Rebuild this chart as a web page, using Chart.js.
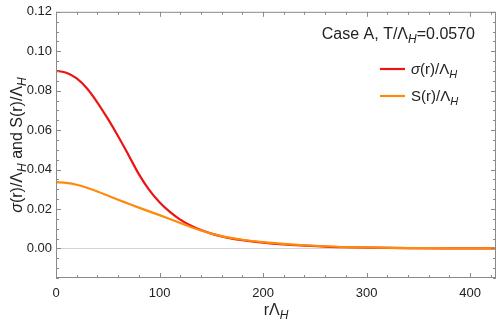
<!DOCTYPE html>
<html>
<head>
<meta charset="utf-8">
<script src="https://cdn.jsdelivr.net/npm/chart.js@4.4.1/dist/chart.umd.min.js"></script>
<style>
  html, body { margin: 0; padding: 0; background: #fff; }
  #wrap { width: 498px; height: 326px; }
</style>
</head>
<body>
<div id="wrap"><canvas id="chart"></canvas></div>
<script>
// values
const rVals = [0, 10, 20, 30, 40, 50, 60, 70, 80, 90, 100, 110, 120, 130, 140, 150, 160, 170, 180, 200, 220, 240, 260, 280, 300, 340, 380, 425];
const sigmaVals = [0.0901, 0.0891, 0.0862, 0.0811, 0.0740, 0.0658, 0.0569, 0.0474, 0.0377, 0.0297, 0.0234, 0.0185, 0.0146, 0.0116, 0.0093, 0.0075, 0.0061, 0.0050, 0.0042, 0.0029, 0.0020, 0.0014, 0.0009, 0.0006, 0.0004, 0.00015, 0.00006, 0.00002];
const sVals = [0.0336, 0.0332, 0.0323, 0.0308, 0.0289, 0.0268, 0.0247, 0.0227, 0.0207, 0.0188, 0.0169, 0.0149, 0.0129, 0.0109, 0.0091, 0.0075, 0.0062, 0.0052, 0.0044, 0.0032, 0.0023, 0.0016, 0.0011, 0.0007, 0.0005, 0.0002, 0.0001, 0.00003];
const xTicks = [0, 100, 200, 300, 400];
const yTicks = [0.00, 0.02, 0.04, 0.06, 0.08, 0.10, 0.12];

const RED = "rgb(235, 20, 20)";
const ORANGE = "rgb(255, 138, 10)";
const FONT = "'Liberation Sans', Arial, sans-serif";

function toPoints(ys) {
  return rVals.map((r, i) => ({ x: r, y: ys[i] }));
}

// draws text made of parts {t, it, sub}
function drawRich(ctx, parts, x, y, size, align) {
  const fontFor = (p) => (p.it ? "italic " : "") + (p.sub ? Math.round(size * 0.72) : size) + "px " + FONT;
  let w = 0;
  parts.forEach((p) => {
    ctx.font = fontFor(p);
    w += ctx.measureText(p.t).width;
  });
  let cx = align === "center" ? x - w / 2 : align === "right" ? x - w : x;
  ctx.textAlign = "left";
  ctx.textBaseline = "alphabetic";
  parts.forEach((p) => {
    ctx.font = fontFor(p);
    ctx.fillText(p.t, cx, p.sub ? y + size * 0.25 : y);
    cx += ctx.measureText(p.t).width;
  });
}

const framePlugin = {
  id: "frame",
  beforeDatasetsDraw(chart) {
    const ctx = chart.ctx;
    const a = chart.chartArea;
    const py = Math.round(chart.scales.y.getPixelForValue(0)) + 0.5;
    ctx.save();
    ctx.strokeStyle = "#d4d4d4";
    ctx.lineWidth = 1;
    ctx.beginPath(); ctx.moveTo(a.left, py); ctx.lineTo(a.right, py); ctx.stroke();
    ctx.restore();
  },
  afterDatasetsDraw(chart) {
    const ctx = chart.ctx;
    const a = chart.chartArea;
    const xs = chart.scales.x;
    const ys = chart.scales.y;
    ctx.save();
    // frame
    ctx.strokeStyle = "#8a8a8a";
    ctx.lineWidth = 1;
    ctx.strokeRect(a.left + 0.5, a.top + 0.5, a.right - a.left - 1, a.bottom - a.top - 1);
    // ticks
    ctx.beginPath();
    for (let v = 0; v <= 425; v += 20) {
      const px = Math.round(xs.getPixelForValue(v)) + 0.5;
      const len = v % 100 === 0 ? 5 : 3;
      ctx.moveTo(px, a.bottom); ctx.lineTo(px, a.bottom - len);
      ctx.moveTo(px, a.top); ctx.lineTo(px, a.top + len);
    }
    for (let k = -3; k <= 24; k++) {
      const v = k * 0.005;
      const py = Math.round(ys.getPixelForValue(v)) + 0.5;
      const len = k % 4 === 0 ? 5 : 3;
      ctx.moveTo(a.left, py); ctx.lineTo(a.left + len, py);
      ctx.moveTo(a.right, py); ctx.lineTo(a.right - len, py);
    }
    ctx.stroke();
    ctx.restore();
  },
  afterDraw(chart) {
    const ctx = chart.ctx;
    const a = chart.chartArea;
    ctx.save();
    ctx.fillStyle = "#222";
    // x title
    drawRich(ctx, [{ t: "r\u039B" }, { t: "H", it: true, sub: true }], (a.left + a.right) / 2, 315, 16, "center");
    // y title
    ctx.save();
    ctx.translate(22, 145);
    ctx.rotate(-Math.PI / 2);
    drawRich(ctx, [
      { t: "\u03C3", it: true }, { t: "(r)/\u039B" }, { t: "H", it: true, sub: true },
      { t: " and S(r)/\u039B" }, { t: "H", it: true, sub: true }
    ], 0, 0, 16, "center");
    ctx.restore();
    // annotation
    drawRich(ctx, [{ t: "Case A, T/\u039B" }, { t: "H", it: true, sub: true }, { t: "=0.0570" }], 475, 39, 16, "right");
    // legend
    ctx.lineWidth = 2.2;
    ctx.strokeStyle = RED;
    ctx.beginPath(); ctx.moveTo(380, 69); ctx.lineTo(405, 69); ctx.stroke();
    ctx.strokeStyle = ORANGE;
    ctx.beginPath(); ctx.moveTo(380, 96); ctx.lineTo(405, 96); ctx.stroke();
    drawRich(ctx, [{ t: "\u03C3", it: true }, { t: "(r)/\u039B" }, { t: "H", it: true, sub: true }], 411, 74, 15, "left");
    drawRich(ctx, [{ t: "S(r)/\u039B" }, { t: "H", it: true, sub: true }], 411, 101, 15, "left");
    ctx.restore();
  }
};

new Chart(document.getElementById("chart"), {
  type: "line",
  data: {
    datasets: [
      {
        label: "sigma",
        data: toPoints(sigmaVals),
        borderColor: RED,
        borderWidth: 2.2,
        pointRadius: 0,
        cubicInterpolationMode: "monotone",
        order: 2,
      },
      {
        label: "S",
        data: toPoints(sVals),
        borderColor: ORANGE,
        borderWidth: 2.2,
        pointRadius: 0,
        cubicInterpolationMode: "monotone",
        order: 1,
      },
    ],
  },
  options: {
    responsive: true,
    maintainAspectRatio: false,
    animation: false,
    layout: { padding: { top: 6, right: 2, left: 0, bottom: 0 } },
    plugins: { legend: { display: false }, tooltip: { enabled: false } },
    scales: {
      x: {
        type: "linear",
        min: 0,
        max: 425,
        border: { display: false },
        grid: { display: false, drawTicks: false },
        afterBuildTicks: (s) => { s.ticks = xTicks.map((v) => ({ value: v })); },
        afterFit: (s) => { s.height = 48; },
        ticks: { padding: 8, color: "#222", font: { family: FONT, size: 13 }, maxRotation: 0 },
      },
      y: {
        min: -0.015,
        max: 0.12,
        border: { display: false },
        grid: { display: false, drawTicks: false },
        afterBuildTicks: (s) => { s.ticks = yTicks.map((v) => ({ value: v })); },
        afterFit: (s) => { s.width = 56; },
        ticks: {
          padding: 4,
          color: "#222",
          font: { family: FONT, size: 13 },
          callback: (v) => Number(v).toFixed(2),
        },
      },
    },
  },
  plugins: [framePlugin],
});
</script>
</body>
</html>
